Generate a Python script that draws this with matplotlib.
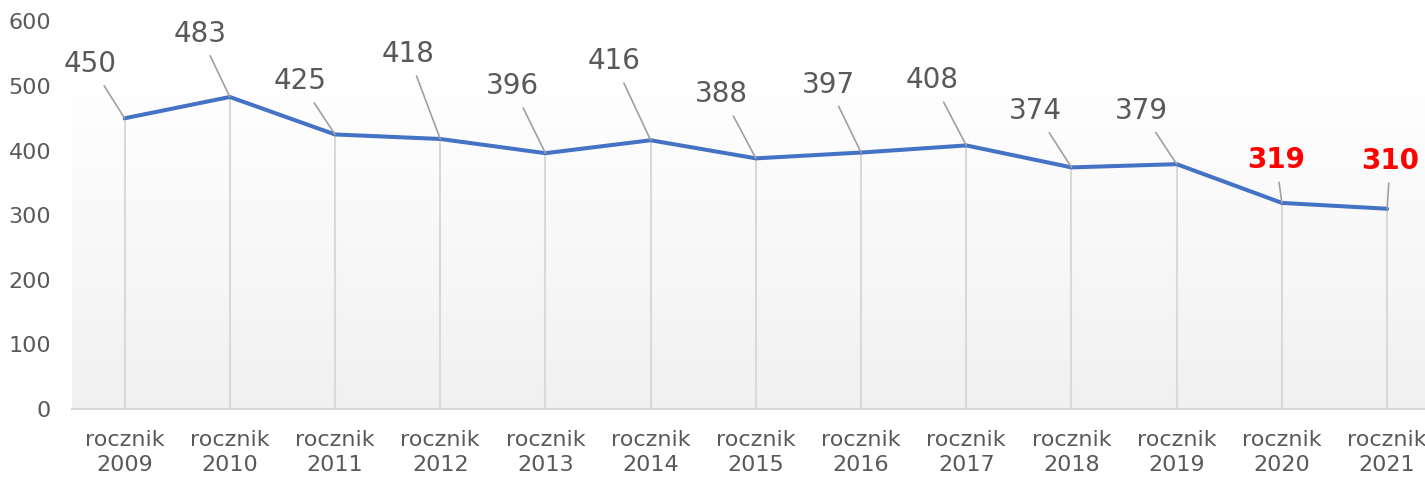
import matplotlib
matplotlib.use('Agg')
import matplotlib.pyplot as plt
import numpy as np

years = ['2009', '2010', '2011', '2012', '2013', '2014', '2015',
         '2016', '2017', '2018', '2019', '2020', '2021']
values = [450, 483, 425, 418, 396, 416, 388, 397, 408, 374, 379, 319, 310]
highlight = ['2020', '2021']

# label offsets in pixels (dx, dy) from the point
offsets = [(-34, 54), (-30, 63), (-35, 53), (-32, 85), (-33, 67), (-37, 79),
           (-34, 64), (-33, 68), (-34, 65), (-36, 56), (-35, 53), (-6, 43), (3, 48)]

matplotlib.rcParams.update({
    'font.family': 'DejaVu Sans',
    'font.size': 16,
})

fig = plt.figure(figsize=(14.25, 4.78), dpi=100)
ax = fig.add_axes([72 / 1425, 1 - 409 / 478, 1 - 72 / 1425, (409 - 21.4) / 478])

x = np.arange(len(years))
ax.set_xlim(-0.5, 12.36)
ax.set_ylim(0, 600)

# background gradient, white on top to light grey at bottom
grad = np.linspace(1.0, 0.0, 256).reshape(-1, 1)
top = np.array([1.0, 1.0, 1.0])
bottom = np.array([0.945, 0.945, 0.945])
img = top * grad[:, :, None] + bottom * (1 - grad[:, :, None])
ax.imshow(img, extent=[-0.5, 12.36, 0, 510], aspect='auto', zorder=0)

# drop lines
ax.vlines(x, 0, values, color='#d9d9d9', lw=1.5, zorder=1)

ax.plot(x, values, color='#4472c4', lw=2.9, zorder=3, solid_capstyle='round')

for i, (yr, v) in enumerate(zip(years, values)):
    red = yr in highlight
    ax.annotate(str(v), xy=(i, v), xytext=offsets[i], textcoords='offset pixels',
                ha='center', va='center', fontsize=20,
                color='#ff0000' if red else '#595959',
                fontweight='bold' if red else 'normal',
                arrowprops=dict(arrowstyle='-', color='#a0a0a0', lw=1.2,
                                shrinkA=4, shrinkB=0),
                zorder=4, annotation_clip=False)

ax.set_xticks(x)
ax.set_xticklabels(['rocznik\n' + y for y in years], color='#595959', linespacing=1.35)
ax.set_yticks(range(0, 601, 100))
ax.tick_params(axis='y', length=0, pad=15, labelcolor='#595959')
ax.tick_params(axis='x', length=0, pad=15)
for s in ['top', 'right', 'left']:
    ax.spines[s].set_visible(False)
ax.spines['bottom'].set_color('#d9d9d9')
ax.spines['bottom'].set_linewidth(1.5)
ax.spines['bottom'].set_zorder(2)

fig.savefig('out.png', dpi=100)
